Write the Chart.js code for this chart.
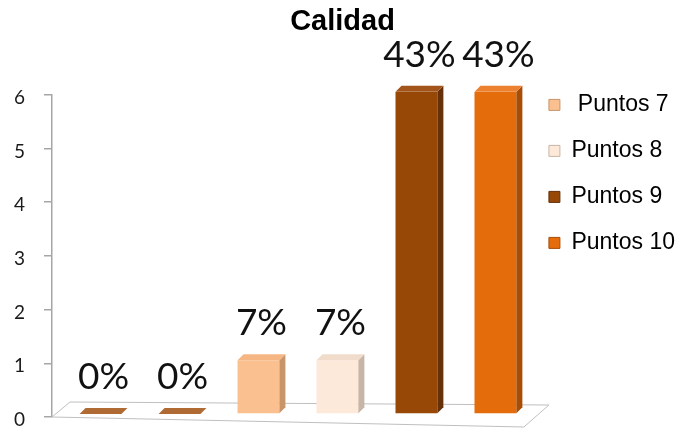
<!DOCTYPE html>
<html lang="es">
<head>
<meta charset="utf-8">
<title>Calidad</title>
<script src="https://cdn.jsdelivr.net/npm/chart.js@4.4.1/dist/chart.umd.min.js"></script>
<style>
  html, body { margin: 0; padding: 0; background: #fff; }
  #grafico-wrap { width: 680px; height: 431px; }
</style>
</head>
<body>
<div id="grafico-wrap"><canvas id="grafico"></canvas></div>
<script>
// Datos de la gráfica
const categorias = ['Puntos 5', 'Puntos 6', ' Puntos 7', 'Puntos 8', 'Puntos 9', 'Puntos 10'];
const valores = [0, 0, 1, 1, 6, 6];
const marcasY = [0, 1, 2, 3, 4, 5, 6];
const enLeyenda = [2, 3, 4, 5];

// Colores: cara frontal, lateral y tapa de cada barra
const colorFrente = ['#a5622c', '#a5622c', '#fac090', '#fde9d9', '#974806', '#e46c0a'];
const colorLado = ['#7a4520', '#7a4520', '#c8946a', '#c9b5a5', '#65300a', '#a84d06'];
const colorTapa = ['#b06a34', '#b06a34', '#f6b683', '#f1dccb', '#a2541a', '#ec8130'];

const total = valores.reduce((s, v) => s + v, 0);

// Piso y efecto 3D de las barras, más las etiquetas de porcentaje
const barras3d = {
   id: 'barras3d',
   beforeDatasetsDraw(chart) {
      const { ctx, chartArea: a } = chart;
      const L = a.left, R = a.right, B = a.bottom;
      ctx.save();
      ctx.beginPath();
      ctx.moveTo(L, B);
      ctx.lineTo(R - 2, B + 10);
      ctx.lineTo(R + 23, B - 12);
      ctx.lineTo(L + 18, B - 15);
      ctx.closePath();
      ctx.fillStyle = '#fff';
      ctx.fill();
      ctx.strokeStyle = '#bfbfbf';
      ctx.lineWidth = 1;
      ctx.stroke();
      ctx.restore();
      // las barras quedan a media profundidad del piso
      ctx.save();
      ctx.translate(9, -3);
   },
   afterDatasetsDraw(chart) {
      const { ctx } = chart;
      const dx = 6, dy = -6;
      const meta = chart.getDatasetMeta(0);
      meta.data.forEach((bar, i) => {
         const { x, y, base, width } = bar.getProps(['x', 'y', 'base', 'width'], true);
         const izq = x - width / 2, der = x + width / 2;
         // lateral
         ctx.beginPath();
         ctx.moveTo(der, y);
         ctx.lineTo(der + dx, y + dy);
         ctx.lineTo(der + dx, base + dy);
         ctx.lineTo(der, base);
         ctx.closePath();
         ctx.fillStyle = colorLado[i];
         ctx.fill();
         // tapa
         ctx.beginPath();
         ctx.moveTo(izq, y);
         ctx.lineTo(izq + dx, y + dy);
         ctx.lineTo(der + dx, y + dy);
         ctx.lineTo(der, y);
         ctx.closePath();
         ctx.fillStyle = colorTapa[i];
         ctx.fill();
         // porcentaje
         const pct = Math.round(valores[i] / total * 100) + '%';
         ctx.font = '37px Lato';
         ctx.fillStyle = '#111';
         ctx.textAlign = 'center';
         ctx.textBaseline = 'alphabetic';
         ctx.fillText(pct, x + dx / 2, y + dy - 19);
      });
      ctx.restore();
   }
};

new Chart(document.getElementById('grafico'), {
   type: 'bar',
   data: {
      labels: categorias,
      datasets: [{
         label: 'Calidad',
         data: valores,
         backgroundColor: colorFrente,
         borderWidth: 0,
         barPercentage: 0.53,
         categoryPercentage: 1
      }]
   },
   options: {
      responsive: true,
      maintainAspectRatio: false,
      animation: false,
      layout: { padding: { top: 0, right: -5, bottom: 14, left: 0 } },
      scales: {
         x: { display: false },
         y: {
            min: 0,
            max: 6,
            afterBuildTicks: s => { s.ticks = marcasY.map(v => ({ value: v })); },
            afterFit: s => {
               s.width = 52;
               s.paddingTop = 10;
               s.paddingBottom = 10;
            },
            border: { color: '#a6a6a6', width: 1.5 },
            grid: { drawOnChartArea: false, tickLength: 8, color: '#a6a6a6', lineWidth: 1.5 },
            ticks: { padding: 19, labelOffset: 3, color: '#1a1a1a', font: { family: 'Lato', size: 19 } }
         }
      },
      plugins: {
         title: {
            display: true,
            text: 'Calidad',
            color: '#000',
            font: { family: 'Liberation Sans', size: 29, weight: 'bold' },
            padding: { top: 5, bottom: 55 }
         },
         legend: {
            position: 'right',
            align: 'start',
            title: { display: true, text: '', padding: { top: 56, bottom: 0 } },
            labels: {
               boxWidth: 11,
               boxHeight: 11,
               padding: 23,
               color: '#000',
               font: { family: 'Liberation Sans', size: 23 },
               generateLabels: () => enLeyenda.map(i => ({
                  text: categorias[i],
                  fillStyle: colorFrente[i],
                  strokeStyle: colorLado[i],
                  fontColor: '#000',
                  lineWidth: 1,
                  hidden: false,
                  index: i,
                  datasetIndex: 0
               }))
            }
         },
         tooltip: { enabled: false }
      }
   },
   plugins: [barras3d]
});
</script>
</body>
</html>
